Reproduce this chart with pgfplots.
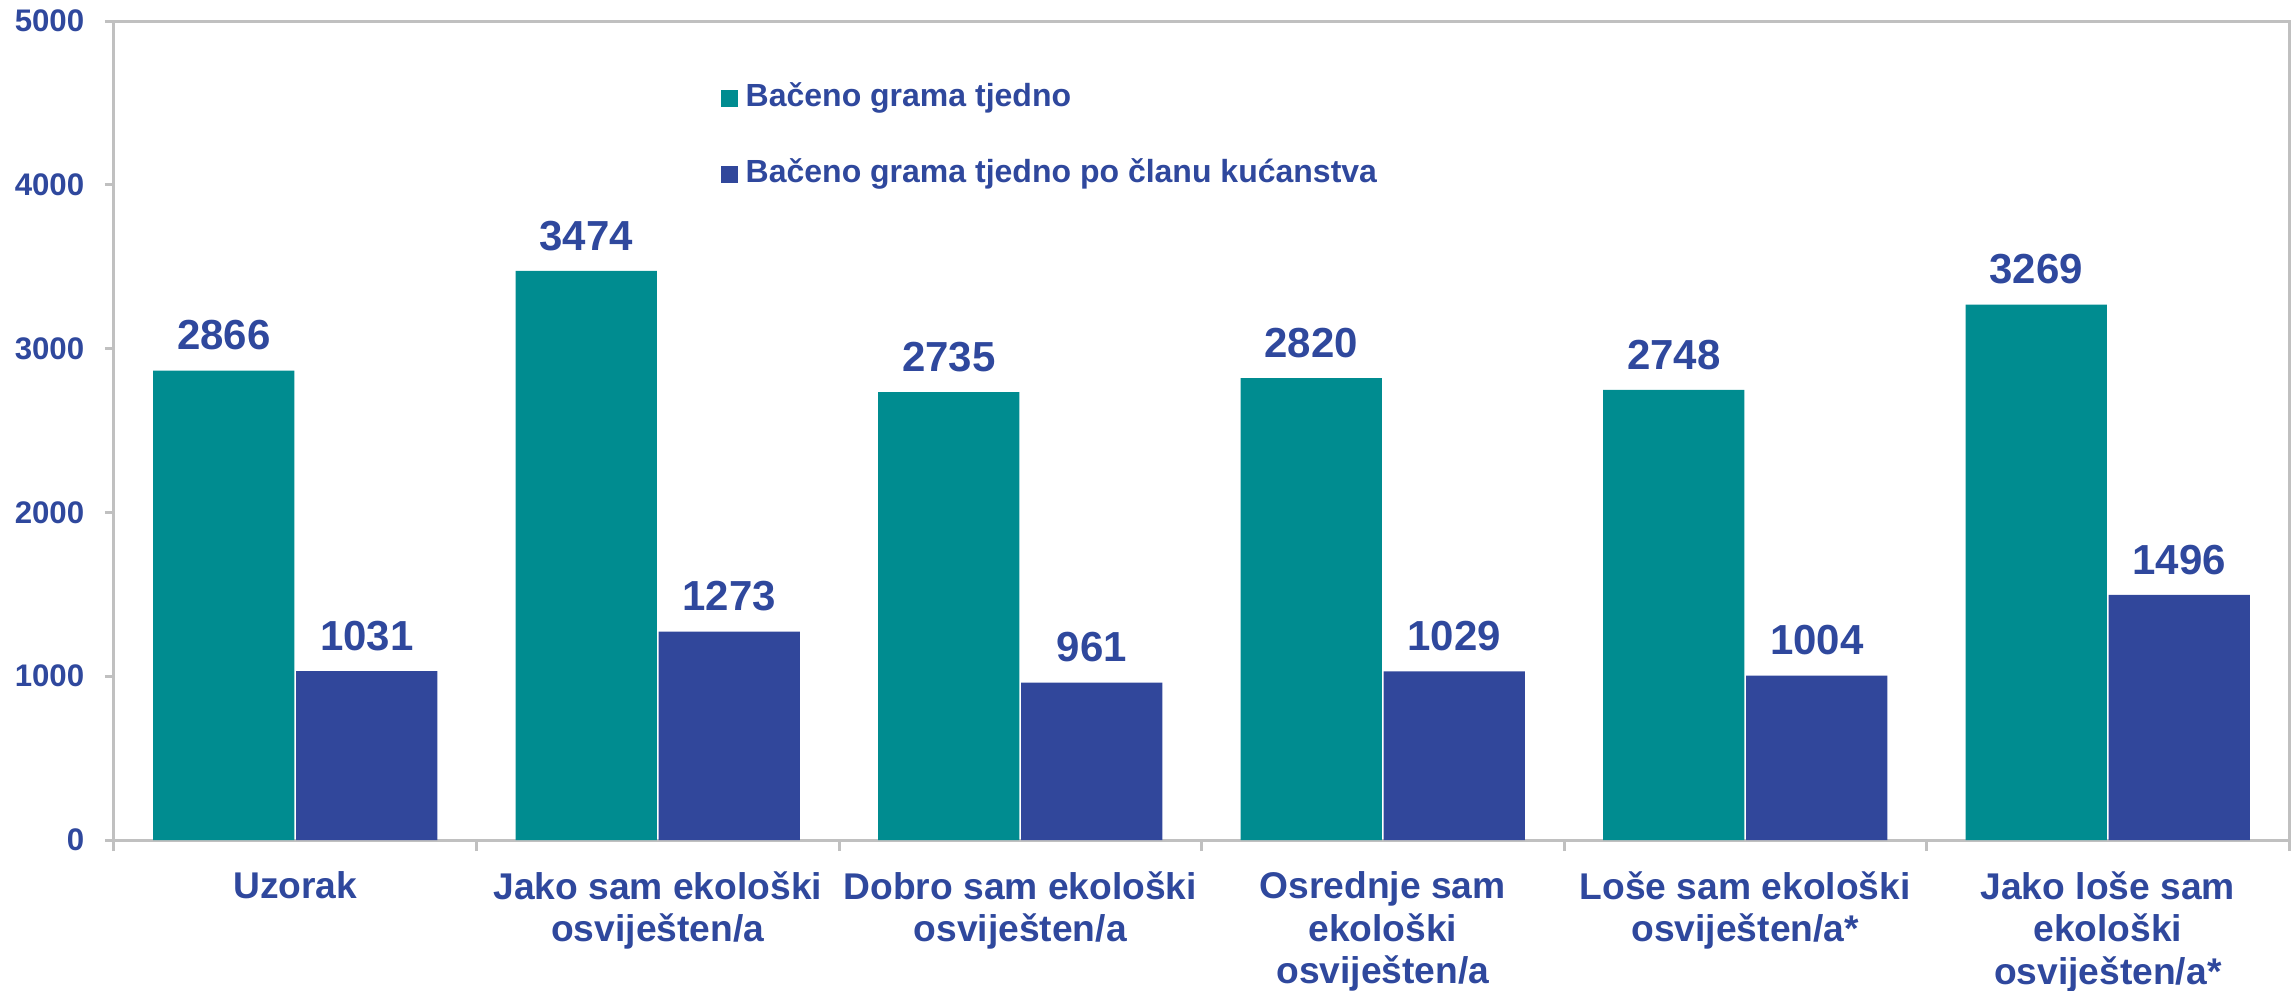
\documentclass[border=0pt]{standalone}
\usepackage{fontspec}
\setmainfont{Liberation Sans}
\usepackage{pgfplots}
\pgfplotsset{compat=1.18}
\definecolor{cteal}{RGB}{0,140,144}
\definecolor{cblue}{RGB}{49,71,155}
\definecolor{ctext}{RGB}{47,72,157}
\definecolor{cgrid}{RGB}{192,192,192}
\begin{document}
\begin{tikzpicture}
\path[use as bounding box] (-28.5pt,-37.5pt) rectangle (544.5pt,210pt);
\begin{axis}[
  at={(0,0)}, anchor=south west,
  scale only axis, width=543.75pt, height=204.75pt,
  ybar=0.4pt, bar width=0.39,
  xmin=-0.5, xmax=5.5, ymin=0, ymax=5000,
  ytick={0,1000,2000,3000,4000,5000},
  xtick={0,1,2,3,4,5},
  xticklabels={Uzorak,
    {Jako sam ekološki\\osviješten/a},
    {Dobro sam ekološki\\osviješten/a},
    {Osrednje sam\\ekološki\\osviješten/a},
    {Loše sam ekološki\\osviješten/a*},
    {Jako loše sam\\ekološki\\osviješten/a*}},
  minor xtick={-0.5,0.5,1.5,2.5,3.5,4.5,5.5},
  minor tick length=2.75pt, major tick length=2.25pt,
  tick align=outside, tick pos=left,
  tick style={cgrid, line width=0.75pt},
  every major x tick/.append style={draw opacity=0},
  axis line style={cgrid, line width=0.75pt},
  /pgf/number format/1000 sep={},
  /pgf/number format/assume math mode=true,
  yticklabel style={font=\bfseries\fontsize{7.8pt}{9pt}\selectfont, color=ctext, inner sep=0pt},
  yticklabel shift=5pt,
  xticklabel style={font=\bfseries\fontsize{9.3pt}{10.6pt}\selectfont, color=ctext, align=center, inner sep=0pt, anchor=north},
  xticklabel shift=5.5pt,
  nodes near coords,
  nodes near coords style={font=\bfseries\fontsize{10.5pt}{12pt}\selectfont, color=ctext, inner sep=0pt, anchor=south, yshift=4.9pt},
  legend style={at={(0.2786,0.9255)}, anchor=north west, draw=none, fill=none,
    inner sep=0pt, row sep=11.3pt, column sep=1.95pt,
    font=\bfseries\fontsize{8pt}{9.6pt}\selectfont, text=ctext,
    nodes={inner sep=0pt, text height=6pt, text depth=1.7pt}},
  legend cell align=left,
]
\addplot[fill=cteal, draw=none,
  legend image code/.code={\path (0pt,-2.15pt) rectangle (4.3pt,2.15pt); \fill[cteal] (0.55pt,-1.6pt) rectangle (3.75pt,1.6pt);}]
  coordinates {(0,2866) (1,3474) (2,2735) (3,2820) (4,2748) (5,3269)};
\addplot[fill=cblue, draw=none,
  legend image code/.code={\fill[cblue] (0pt,-2.15pt) rectangle (4.3pt,2.15pt);}]
  coordinates {(0,1031) (1,1273) (2,961) (3,1029) (4,1004) (5,1496)};
\legend{Bačeno grama tjedno, Bačeno grama tjedno po članu kućanstva}
\end{axis}
\end{tikzpicture}
\end{document}
